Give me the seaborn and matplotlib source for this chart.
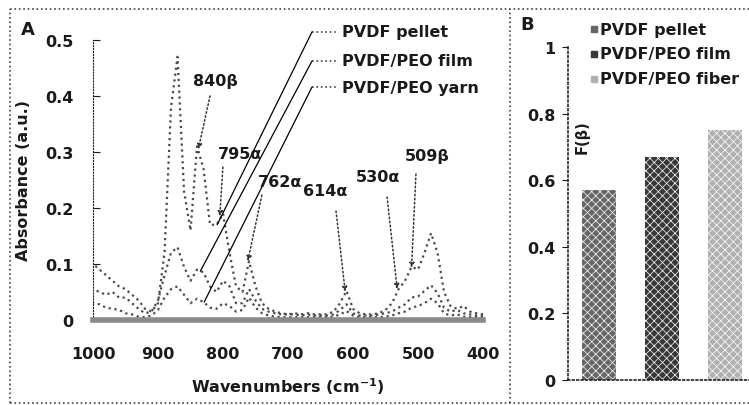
import matplotlib
matplotlib.use("Agg")
import matplotlib.pyplot as plt
from matplotlib.lines import Line2D
import seaborn as sns

# FTIR spectra (wavenumber grid 1000 -> 400, step 10)
wavenumbers = list(range(1000, 390, -10))
pellet = [0.100, 0.090, 0.080, 0.070, 0.060, 0.055, 0.045, 0.035, 0.020, 0.015,
          0.030, 0.120, 0.380, 0.470, 0.230, 0.160, 0.310, 0.270, 0.170, 0.170,
          0.190, 0.120, 0.060, 0.050, 0.105, 0.060, 0.030, 0.020, 0.015, 0.012,
          0.010, 0.012, 0.010, 0.012, 0.010, 0.010, 0.010, 0.015, 0.030, 0.052,
          0.020, 0.012, 0.010, 0.010, 0.012, 0.018, 0.030, 0.055, 0.070, 0.095,
          0.090, 0.120, 0.155, 0.120, 0.050, 0.025, 0.020, 0.025, 0.015, 0.012,
          0.010]
film = [0.055, 0.050, 0.045, 0.050, 0.040, 0.040, 0.030, 0.020, 0.012, 0.015,
        0.035, 0.080, 0.120, 0.130, 0.095, 0.070, 0.090, 0.085, 0.060, 0.050,
        0.070, 0.060, 0.030, 0.030, 0.055, 0.035, 0.020, 0.015, 0.012, 0.010,
        0.010, 0.010, 0.008, 0.010, 0.008, 0.008, 0.008, 0.010, 0.018, 0.028,
        0.012, 0.008, 0.008, 0.008, 0.010, 0.012, 0.015, 0.022, 0.028, 0.040,
        0.042, 0.052, 0.062, 0.048, 0.022, 0.015, 0.018, 0.012, 0.010, 0.008,
        0.008]
yarn = [0.030, 0.028, 0.022, 0.020, 0.018, 0.012, 0.010, 0.006, 0.005, 0.008,
        0.018, 0.040, 0.055, 0.060, 0.045, 0.030, 0.038, 0.032, 0.022, 0.020,
        0.030, 0.025, 0.015, 0.018, 0.040, 0.022, 0.012, 0.008, 0.006, 0.005,
        0.005, 0.005, 0.005, 0.005, 0.005, 0.005, 0.005, 0.006, 0.010, 0.016,
        0.008, 0.005, 0.005, 0.005, 0.005, 0.006, 0.008, 0.012, 0.015, 0.022,
        0.025, 0.030, 0.038, 0.030, 0.012, 0.008, 0.010, 0.006, 0.005, 0.005,
        0.005]
spectra_names = ["PVDF pellet", "PVDF/PEO film", "PVDF/PEO yarn"]

# peak labels: text, peak position (cm-1, absorbance)
peak_labels = ["840\u03b2", "795\u03b1", "762\u03b1", "614\u03b1", "530\u03b1", "509\u03b2"]
peak_points = [(838, 0.305), (805, 0.185), (762, 0.105), (612, 0.050), (532, 0.055), (510, 0.093)]

# beta fraction bars
samples = ["PVDF pellet", "PVDF/PEO film", "PVDF/PEO fiber"]
f_beta = [0.57, 0.67, 0.75]
bar_colors = ["#666666", "#383838", "#b0b0b0"]

sns.set_style("white")
plt.rcParams["font.family"] = ["DejaVu Sans"]
plt.rcParams["font.weight"] = "bold"
plt.rcParams["hatch.color"] = "white"
plt.rcParams["hatch.linewidth"] = 0.5
FS = 11.5
INK = "#1a1a1a"

fig = plt.figure(figsize=(7.49, 4.06), dpi=100)

# ---------------- panel A ----------------
axA = fig.add_axes([0.1242, 0.2094, 0.5207, 0.6897])
for vals in (pellet, film, yarn):
    sns.lineplot(x=wavenumbers, y=vals, ax=axA, color="#4a4a4a", linestyle=":", linewidth=1.6)
axA.set_xlim(1000, 400)
axA.set_ylim(0, 0.5)
axA.set_yticks([0, 0.1, 0.2, 0.3, 0.4, 0.5])
axA.set_yticklabels(["0", "0.1", "0.2", "0.3", "0.4", "0.5"])
axA.set_xticks([1000, 900, 800, 700, 600, 500, 400])
axA.tick_params(axis="y", direction="in", length=5, width=0.8, pad=14, labelsize=FS, colors=INK, left=True)
axA.tick_params(axis="x", length=0, pad=19, labelsize=FS, colors=INK)
axA.set_xlabel("Wavenumbers (cm$^{-1}$)", fontsize=FS, fontweight="bold", color=INK, labelpad=10)
axA.set_ylabel("Absorbance (a.u.)", fontsize=FS, fontweight="bold", color=INK, labelpad=10)
for s in ("top", "right"):
    axA.spines[s].set_visible(False)
axA.spines["left"].set_linestyle(":")
axA.spines["left"].set_color("#222222")
axA.spines["bottom"].set_linestyle((0, (1, 1)))
axA.spines["bottom"].set_linewidth(4)
axA.spines["bottom"].set_color("#8a8a8a")

# legend with leader lines
leader_rows = [1.029, 0.925, 0.832]
leader_ends = [(809, 0.17), (835, 0.087), (829, 0.032)]
for name, ry, end in zip(spectra_names, leader_rows, leader_ends):
    axA.plot([0.5615, 0.628], [ry, ry], transform=axA.transAxes, color="#444444",
             linestyle=":", linewidth=1.2, clip_on=False)
    axA.annotate("", xy=end, xycoords="data", xytext=(0.5615, ry), textcoords="axes fraction",
                 arrowprops=dict(arrowstyle="-", color="black", linewidth=0.9, shrinkA=0, shrinkB=0),
                 annotation_clip=False)
    axA.text(0.638, ry, name, transform=axA.transAxes, fontsize=FS, fontweight="bold",
             color=INK, va="center", ha="left")

# peak labels with dotted arrows
label_pos = [(0.313, 0.854), (0.377, 0.593), (0.479, 0.496), (0.595, 0.461), (0.731, 0.514), (0.856, 0.586)]
arrow_start = [(0.300, 0.800), (0.333, 0.546), (0.433, 0.446), (0.623, 0.389), (0.754, 0.439), (0.828, 0.521)]
for txt, pos, start, pk in zip(peak_labels, label_pos, arrow_start, peak_points):
    axA.text(pos[0], pos[1], txt, transform=axA.transAxes, fontsize=FS, fontweight="bold",
             color=INK, ha="center", va="center")
    axA.annotate("", xy=pk, xycoords="data", xytext=start, textcoords="axes fraction",
                 arrowprops=dict(arrowstyle="-|>", linestyle=":", color="#333333",
                                 linewidth=1.1, mutation_scale=7, shrinkA=0, shrinkB=0))

# ---------------- panel B ----------------
axB = fig.add_axes([0.7583, 0.0616, 0.2523, 0.8202])
sns.barplot(x=samples, y=f_beta, hue=samples, palette=bar_colors, legend=False,
            width=0.54, ax=axB, saturation=1)
for bar in axB.patches:
    bar.set_hatch("xxxx")
    bar.set_linewidth(0)
axB.set_xlim(-0.5, 2.5)
axB.set_ylim(0, 1)
axB.set_yticks([0, 0.2, 0.4, 0.6, 0.8, 1.0])
axB.set_yticklabels(["0", "0.2", "0.4", "0.6", "0.8", "1"])
axB.set_xticks([])
axB.set_xlabel("")
axB.tick_params(axis="y", direction="out", length=4, width=0.8, pad=5, labelsize=FS, colors=INK, left=True)
for s in ("top", "right"):
    axB.spines[s].set_visible(False)
for s in ("left", "bottom"):
    axB.spines[s].set_linestyle(":")
    axB.spines[s].set_color("#222222")
    axB.spines[s].set_linewidth(1.2)
axB.text(0.074, 0.733, "F(\u03b2)", transform=axB.transAxes, rotation=90, fontsize=10.5,
         fontweight="bold", color=INK, ha="center", va="center")
for name, col, ry in zip(samples, bar_colors, [1.054, 0.979, 0.904]):
    axB.plot([0.1376], [ry], transform=axB.transAxes, marker="s", markersize=5,
             color=col, linestyle="none", clip_on=False)
    axB.text(0.169, ry, name, transform=axB.transAxes, fontsize=FS, fontweight="bold",
             color=INK, va="center", ha="left")

# panel letters and frames
fig.text(0.0374, 0.926, "A", fontsize=13, fontweight="bold", color=INK, ha="center", va="center")
fig.text(0.7036, 0.938, "B", fontsize=13, fontweight="bold", color=INK, ha="center", va="center")
frame = dict(color="#444444", linestyle=":", linewidth=1.2, transform=fig.transFigure)
fig.add_artist(Line2D([0.0134, 1.0], [0.975, 0.975], **frame))
fig.add_artist(Line2D([0.0134, 1.0], [0.006, 0.006], **frame))
fig.add_artist(Line2D([0.0134, 0.0134], [0.006, 0.975], **frame))
fig.add_artist(Line2D([0.681, 0.681], [0.006, 0.975], **frame))

fig.savefig("out.png", dpi=100)
